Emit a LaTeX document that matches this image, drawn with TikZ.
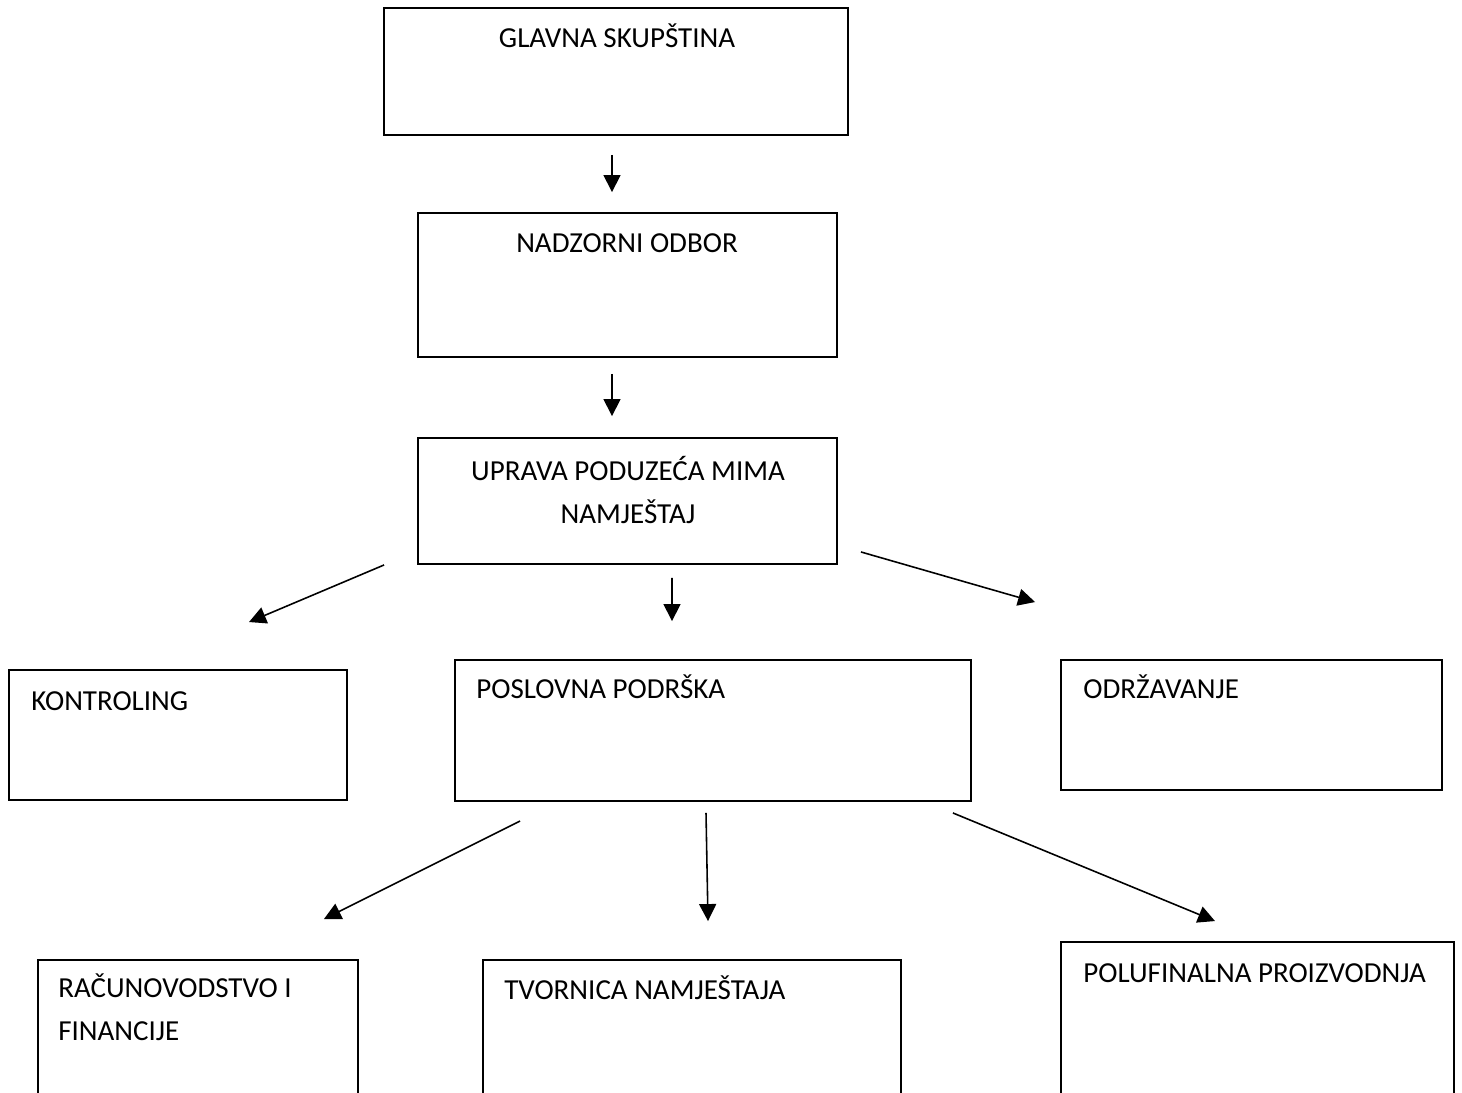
\documentclass[tikz,border=0pt]{standalone}
\usepackage{fontspec}
\setmainfont{Carlito}
\usetikzlibrary{arrows.meta}

\tikzset{
  okvir/.style={draw, line width=1.1pt, inner sep=0pt},
  natpis/.style={font=\fontsize{16.5}{24}\selectfont, inner sep=0pt},
  strelica/.style={-{Triangle[length=3.4mm,width=3.4mm]}, line width=0.9pt}
}

\begin{document}
\begin{tikzpicture}[x=0.02cm, y=-0.02cm]
    % Okvir slike
    \useasboundingbox (0,0) rectangle (1462,1092);
    \clip (0,0) rectangle (1462,1092);

    % Okviri
    \node[okvir, minimum width=9.28cm, minimum height=2.54cm] (glavna) at (616,71.5) {};
    \node[okvir, minimum width=8.38cm, minimum height=2.88cm] (nadzorni) at (627.5,285) {};
    \node[okvir, minimum width=8.38cm, minimum height=2.52cm] (uprava) at (627.5,501) {};
    \node[okvir, minimum width=6.76cm, minimum height=2.6cm] (kontroling) at (178,735) {};
    \node[okvir, minimum width=10.32cm, minimum height=2.82cm] (poslovna) at (713,730.5) {};
    \node[okvir, minimum width=7.62cm, minimum height=2.6cm] (odrzavanje) at (1251.5,725) {};
    \node[okvir, minimum width=6.4cm, minimum height=3cm] (racunovodstvo) at (198,1035) {};
    \node[okvir, minimum width=8.36cm, minimum height=3cm] (tvornica) at (692,1035) {};
    \node[okvir, minimum width=7.86cm, minimum height=3.36cm] (polufinalna) at (1257.5,1026) {};

    % Natpisi
    \node[natpis, anchor=base] (glavnaT) at (617,47) {GLAVNA SKUPŠTINA};
    \node[natpis, anchor=base] (nadzorniT) at (627,252) {NADZORNI ODBOR};
    \node[natpis, anchor=base, align=center] (upravaT) at (628,523) {UPRAVA PODUZEĆA MIMA\\NAMJEŠTAJ};
    \node[natpis, anchor=base west] (kontrolingT) at (31,710) {KONTROLING};
    \node[natpis, anchor=base west] (poslovnaT) at (476,698) {POSLOVNA PODRŠKA};
    \node[natpis, anchor=base west] (odrzavanjeT) at (1083,698) {ODRŽAVANJE};
    \node[natpis, anchor=base west, align=left] (racunovodstvoT) at (58,1040) {RAČUNOVODSTVO I\\FINANCIJE};
    \node[natpis, anchor=base west] (tvornicaT) at (504,999) {TVORNICA NAMJEŠTAJA};
    \node[natpis, anchor=base west] (polufinalnaT) at (1083,982) {POLUFINALNA PROIZVODNJA};

    % Strelice
    \draw[strelica] ([shift={(-4,19)}]glavna.south) -- ([shift={(-15.5,-20)}]nadzorni.north);
    \draw[strelica] ([shift={(-15.5,16)}]nadzorni.south) -- ([shift={(-15.5,-21)}]uprava.north);
    \draw[strelica] ([shift={(-33,0)}]uprava.south west) -- ([shift={(71,-47)}]kontroling.north);
    \draw[strelica] ([shift={(44.5,13)}]uprava.south) -- ([shift={(-41,-38)}]poslovna.north);
    \draw[strelica] ([shift={(23,-13)}]uprava.south east) -- ([shift={(-25,-57)}]odrzavanje.north west);
    \draw[strelica] ([shift={(66,19)}]poslovna.south west) -- ([shift={(-35,-40)}]racunovodstvo.north east);
    \draw[strelica] ([shift={(-7,11)}]poslovna.south) -- ([shift={(16,-38)}]tvornica.north);
    \draw[strelica] ([shift={(-19,11)}]poslovna.south east) -- ([shift={(-42.5,-20)}]polufinalna.north);
\end{tikzpicture}
\end{document}
